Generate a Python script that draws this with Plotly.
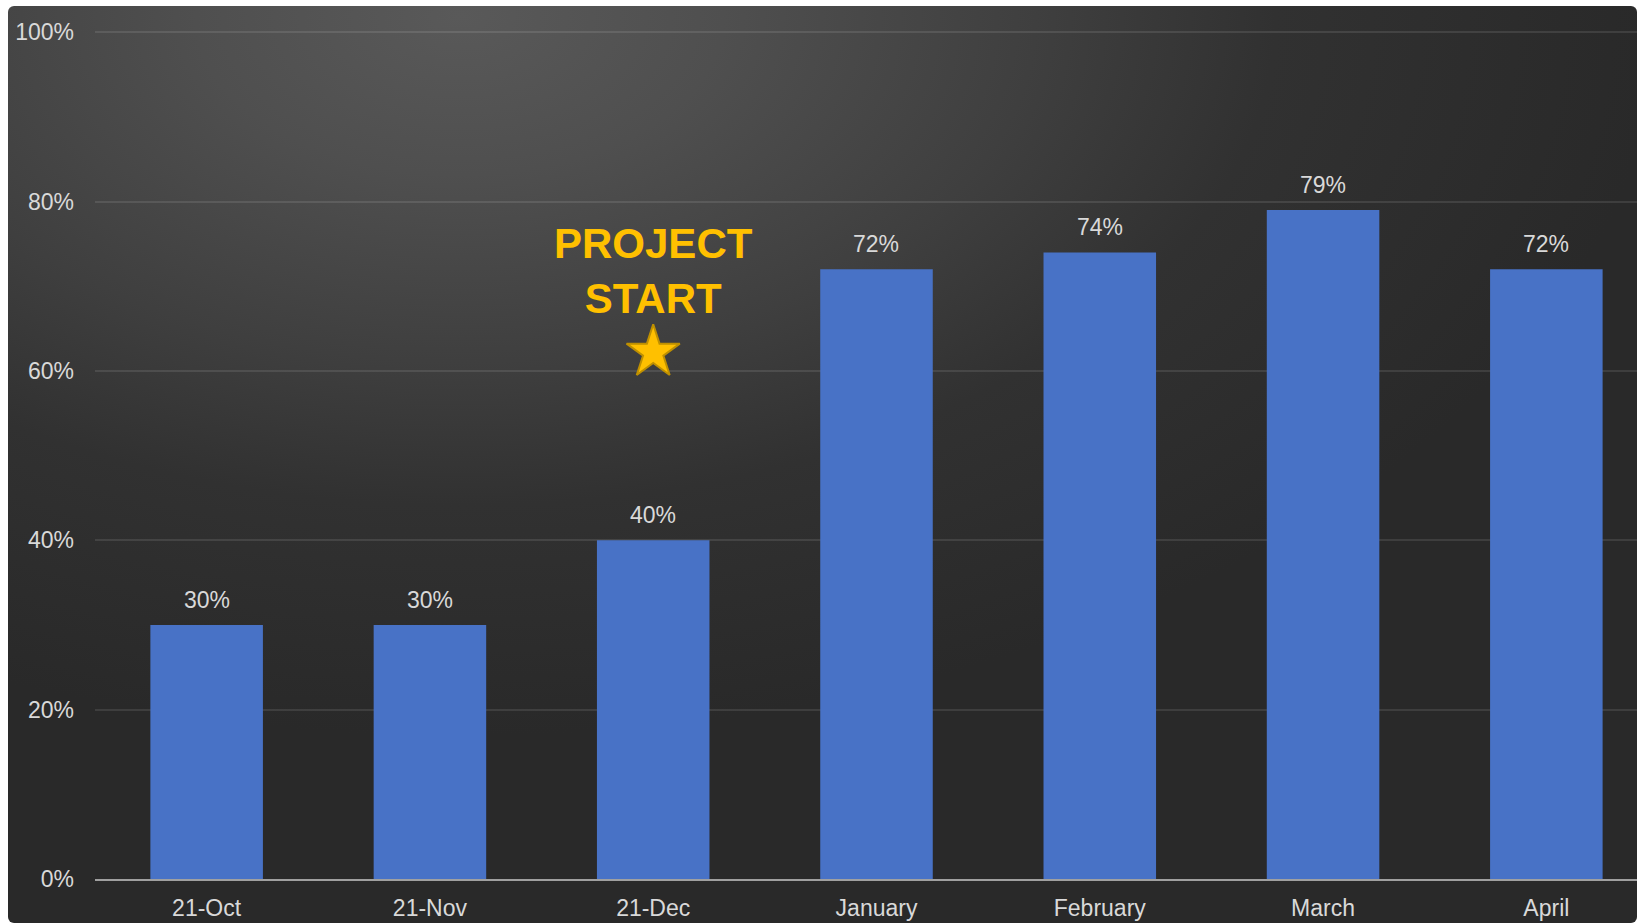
import base64
import plotly.graph_objects as go

# ---- data ----
categories = ["21-Oct", "21-Nov", "21-Dec", "January", "February", "March", "April"]
values = [0.30, 0.30, 0.40, 0.72, 0.74, 0.79, 0.72]
value_labels = ["30%", "30%", "40%", "72%", "74%", "79%", "72%"]
y_tickvals = [0, 0.2, 0.4, 0.6, 0.8, 1.0]
y_ticktext = ["0%", "20%", "40%", "60%", "80%", "100%"]
milestone_category = "21-Dec"
milestone_text = "PROJECT<br>START"

# ---- style / layout constants ----
W, H = 1637, 923
ML, MR, MT, MB = 95, 0, 28, 44
Y_TOP = 1.005
PLOT_W = W - ML - MR
PLOT_H = H - MT - MB
FONT = "Arial, 'Liberation Sans', sans-serif"
LABEL_COLOR = "#D9D9D9"
BAR_COLOR = "#4872C6"
GOLD = "#FFC000"
STAR_Y = 0.622
TEXT_Y = 0.655

# background panel (radial vignette) as inline SVG
BG_X0, BG_Y0 = 8, 6
BW, BH = W - BG_X0, H - BG_Y0
cx, cy = 452, 10
svg = f'''<svg xmlns="http://www.w3.org/2000/svg" width="{BW}" height="{BH}" viewBox="0 0 {BW} {BH}" preserveAspectRatio="none">
<defs><radialGradient id="g" gradientUnits="userSpaceOnUse" cx="{cx}" cy="{cy}" r="1200"
 gradientTransform="translate({cx} {cy}) scale(1 0.6) translate(-{cx} -{cy})">
<stop offset="0" stop-color="#595959"/>
<stop offset="0.22" stop-color="#4F4F4F"/>
<stop offset="0.48" stop-color="#3F3F3F"/>
<stop offset="0.68" stop-color="#313131"/>
<stop offset="1" stop-color="#292929"/>
</radialGradient></defs>
<rect x="0" y="0" width="{BW}" height="{BH}" rx="6" ry="6" fill="url(#g)"/>
</svg>'''
svg_uri = "data:image/svg+xml;base64," + base64.b64encode(svg.encode()).decode()

fig = go.Figure()
fig.add_trace(go.Bar(
    x=categories, y=values,
    marker=dict(color=BAR_COLOR, line=dict(width=0)),
    hoverinfo="skip", showlegend=False,
))

# star marker at the milestone
fig.add_trace(go.Scatter(
    x=[milestone_category], y=[STAR_Y], mode="markers",
    marker=dict(symbol="star", size=40, color=GOLD, line=dict(color="#BF9000", width=2)),
    hoverinfo="skip", showlegend=False,
))

annotations = []
for c, v, t in zip(categories, values, value_labels):
    annotations.append(dict(
        x=c, y=v, xref="x", yref="y", text=t, showarrow=False,
        yanchor="bottom", yshift=10,
        font=dict(family=FONT, size=23, color=LABEL_COLOR),
    ))
annotations.append(dict(
    x=milestone_category, y=TEXT_Y, xref="x", yref="y", text=milestone_text,
    showarrow=False, yanchor="bottom", align="center",
    font=dict(family=FONT, size=42, color=GOLD, weight="bold"),
))

fig.update_layout(
    width=W, height=H,
    margin=dict(l=ML, r=MR, t=MT, b=MB, pad=0),
    paper_bgcolor="white",
    plot_bgcolor="rgba(0,0,0,0)",
    bargap=0.496,
    font=dict(family=FONT, size=23, color=LABEL_COLOR),
    images=[dict(
        source=svg_uri, xref="paper", yref="paper",
        x=(BG_X0 - ML) / PLOT_W, y=(H - MB - BG_Y0) / PLOT_H,
        sizex=BW / PLOT_W, sizey=BH / PLOT_H,
        xanchor="left", yanchor="top", sizing="stretch", layer="below",
    )],
    annotations=annotations,
    xaxis=dict(
        type="category", range=[-0.5, 6.406],
        showgrid=False, zeroline=False,
        showline=True, linecolor="#A0A0A0", linewidth=2,
        ticks="", ticklabelstandoff=7,
        tickfont=dict(family=FONT, size=23, color=LABEL_COLOR),
    ),
    yaxis=dict(
        range=[0, Y_TOP], tickvals=y_tickvals, ticktext=y_ticktext,
        showgrid=True, gridcolor="rgba(255,255,255,0.1)", gridwidth=2,
        zeroline=False, showline=False, ticks="",
        ticklabelstandoff=20,
        tickfont=dict(family=FONT, size=23, color=LABEL_COLOR),
    ),
)

fig.write_html("out.html")
